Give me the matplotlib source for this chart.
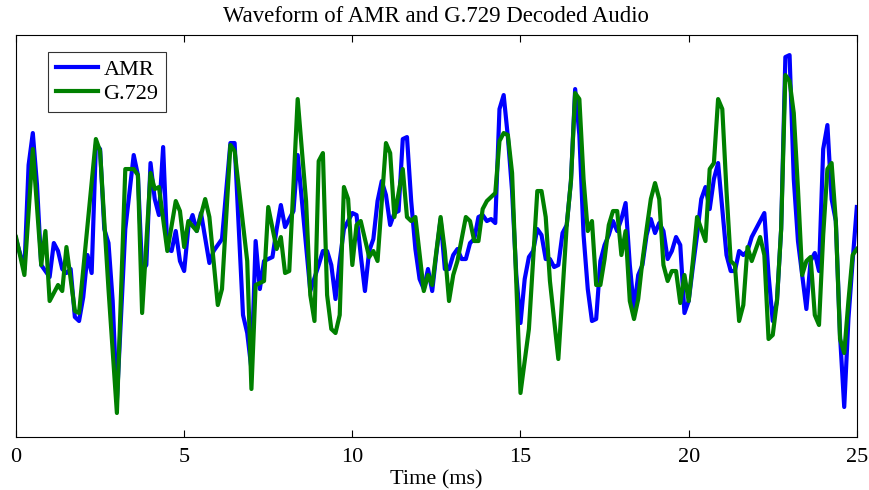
import matplotlib
matplotlib.use("Agg")
import matplotlib.pyplot as plt

plt.rcParams['font.family'] = ['Liberation Serif', 'DejaVu Serif']

amr_t = [0, 0.25, 0.375, 0.5, 0.625, 0.75, 0.875, 1.0, 1.125, 1.25, 1.375, 1.5, 1.625, 1.75, 1.875,
         2.0, 2.125, 2.25, 2.375, 2.5, 2.625, 2.75, 2.875, 3.0, 3.25, 3.5, 3.625, 3.75, 3.875,
         4.0, 4.125, 4.25, 4.375, 4.5, 4.625, 4.75, 4.875, 5.0, 5.125, 5.25, 5.375, 5.5, 5.75, 5.875,
         6.125, 6.375, 6.5, 6.75, 6.875, 7.0, 7.125, 7.25, 7.375, 7.625, 7.75, 7.875,
         8.0, 8.125, 8.25, 8.375, 8.75, 9.0, 9.125, 9.25, 9.375, 9.5, 9.625, 9.75, 9.875,
         10.0, 10.125, 10.25, 10.375, 10.5, 10.625, 10.75, 10.875, 11.0, 11.125, 11.25, 11.375, 11.5, 11.625, 11.75, 11.875,
         12.0, 12.125, 12.25, 12.375, 12.5, 12.625, 12.75, 12.875, 13.0, 13.125, 13.25, 13.375, 13.5, 13.625, 13.75, 13.875,
         14.0, 14.125, 14.25, 14.375, 14.5, 14.625, 14.75, 14.875, 15.0, 15.125, 15.25, 15.375, 15.5, 15.625, 15.75, 15.875,
         16.0, 16.125, 16.25, 16.375, 16.5, 16.625, 16.75, 16.875, 17.0, 17.125, 17.25, 17.375, 17.5, 17.625, 17.75, 17.875,
         18.0, 18.125, 18.25, 18.375, 18.5, 18.625, 18.75, 18.875, 19.0, 19.125, 19.25, 19.375, 19.5, 19.625, 19.75, 19.875,
         20.0, 20.125, 20.25, 20.375, 20.5, 20.625, 20.75, 20.875, 21.0, 21.125, 21.25, 21.375, 21.5, 21.625, 21.75, 21.875,
         22.0, 22.125, 22.25, 22.375, 22.5, 22.625, 22.75, 22.875, 23.0, 23.125, 23.25, 23.375, 23.5, 23.625, 23.75, 23.875,
         24.0, 24.125, 24.25, 24.375, 24.5, 24.625, 24.75, 24.875, 25.0]
amr_v = [-0.01, -0.16, 0.36, 0.52, 0.26, -0.14, -0.17, -0.2, -0.03, -0.07, -0.16, -0.18, -0.16, -0.4, -0.42,
         -0.3, -0.09, -0.18, 0.46, 0.44, 0.04, -0.03, -0.32, -0.82, 0.04, 0.41, 0.31, -0.17, -0.14,
         0.37, 0.19, 0.11, 0.45, -0.06, -0.07, 0.03, -0.12, -0.17, 0.05, 0.11, 0.03, 0.12, -0.13, -0.07,
         -0.01, 0.47, 0.47, -0.39, -0.48, -0.66, -0.02, -0.26, -0.12, -0.1, 0.04, 0.16,
         0.05, 0.09, 0.13, 0.41, -0.27, -0.14, -0.07, -0.07, -0.14, -0.31, -0.12, 0.04, 0.08,
         0.12, 0.11, -0.09, -0.27, -0.07, -0.01, 0.18, 0.28, 0.21, 0.06, 0.12, 0.13, 0.49, 0.5, 0.18, -0.06,
         -0.21, -0.26, -0.16, -0.27, -0.08, 0.09, -0.16, -0.16, -0.09, -0.06, -0.11, -0.11, -0.03, -0.01, 0.1, 0.11,
         0.08, 0.09, 0.07, 0.64, 0.71, 0.5, 0.23, -0.19, -0.43, -0.21, -0.1, -0.07, 0.04, 0.01, -0.11, -0.11,
         -0.15, -0.14, 0.02, 0.06, 0.28, 0.74, 0.51, 0.01, -0.26, -0.42, -0.41, -0.12, -0.04, 0.01, 0.08, 0.03,
         0.09, 0.17, -0.14, -0.36, -0.19, -0.14, 0.01, 0.09, 0.02, 0.07, 0.03, -0.11, -0.07, 0.0, -0.04, -0.38,
         -0.32, -0.15, 0.01, 0.19, 0.25, 0.14, 0.29, 0.37, 0.14, -0.09, -0.17, -0.17, -0.07, -0.09, -0.07, 0.0,
         0.04, 0.08, 0.12, -0.19, -0.42, -0.32, 0.04, 0.9, 0.91, 0.29, -0.02, -0.19, -0.36, -0.12, -0.08, -0.17,
         0.44, 0.56, 0.19, 0.08, -0.49, -0.85, -0.41, -0.12, 0.15]

g729_t = [0, 0.25, 0.5, 0.75, 0.875, 1.0, 1.25, 1.375, 1.5, 1.75, 1.875, 2.375, 2.5, 2.625, 2.75, 3.0,
          3.25, 3.5, 3.625, 3.75, 4.0, 4.125, 4.25, 4.5, 4.75, 4.875, 5.0, 5.125, 5.375, 5.625, 5.75,
          6.0, 6.125, 6.375, 6.5, 6.875, 7.0, 7.125, 7.375, 7.5, 7.75, 7.875, 8.0, 8.125, 8.375, 8.625,
          8.75, 8.875, 9.0, 9.125, 9.25, 9.375, 9.5, 9.625, 9.75, 9.875, 10.0, 10.125, 10.25, 10.5,
          10.625, 10.75, 11.0, 11.125, 11.25, 11.5, 11.625, 11.75, 11.875, 12.125, 12.25, 12.375,
          12.625, 12.75, 12.875, 13.0, 13.125, 13.25, 13.375, 13.5, 13.625, 13.75, 13.875, 14.0, 14.25,
          14.375, 14.5, 14.625, 14.75, 15.0, 15.25, 15.5, 15.625, 15.75, 15.875, 16.125, 16.375, 16.5,
          16.625, 16.75, 16.875, 17.0, 17.125, 17.25, 17.375, 17.5, 17.625, 17.75, 17.875, 18.0, 18.125,
          18.25, 18.375, 18.5, 18.625, 18.75, 18.875, 19.0, 19.125, 19.25, 19.375, 19.5, 19.625, 19.75,
          19.875, 20.0, 20.125, 20.25, 20.375, 20.5, 20.625, 20.75, 20.875, 21.0, 21.125, 21.25, 21.375,
          21.5, 21.625, 21.75, 21.875, 22.0, 22.125, 22.25, 22.375, 22.5, 22.625, 22.75, 22.875, 23.0,
          23.125, 23.25, 23.375, 23.5, 23.625, 23.75, 23.875, 24.0, 24.125, 24.25, 24.375, 24.5, 24.625,
          24.75, 24.875, 25.0]
g729_v = [0.0, -0.19, 0.44, -0.14, 0.03, -0.32, -0.24, -0.27, -0.05, -0.37, -0.38, 0.49, 0.43, 0.08, -0.26, -0.88,
          0.34, 0.34, 0.31, -0.38, 0.32, 0.24, 0.25, -0.07, 0.18, 0.13, -0.05, 0.08, 0.03, 0.19, 0.1,
          -0.34, -0.26, 0.46, 0.43, -0.12, -0.76, -0.24, -0.22, 0.15, -0.06, 0.0, -0.18, -0.17, 0.69, 0.18,
          -0.29, -0.42, 0.38, 0.42, -0.29, -0.46, -0.48, -0.39, 0.25, 0.19, -0.14, 0.06, 0.08, -0.1,
          -0.07, -0.12, 0.47, 0.42, 0.1, 0.34, 0.1, 0.08, 0.1, -0.27, -0.19, -0.24,
          0.1, -0.07, -0.32, -0.19, -0.12, -0.01, 0.1, 0.08, -0.02, -0.02, 0.14, 0.18, 0.22,
          0.48, 0.52, 0.51, 0.32, -0.78, -0.46, 0.23, 0.23, 0.1, -0.22, -0.61, 0.06, 0.28,
          0.72, 0.69, 0.29, 0.03, 0.08, -0.24, -0.24, -0.11, 0.06, 0.13, 0.13, -0.09, 0.03,
          -0.32, -0.41, -0.31, -0.12, 0.04, 0.19, 0.27, 0.19, -0.14, -0.22, -0.17, -0.17, -0.33,
          -0.19, -0.32, -0.12, 0.1, 0.04, -0.02, 0.34, 0.37, 0.69, 0.64, 0.23, -0.12, -0.14,
          -0.42, -0.34, -0.05, -0.12, -0.06, 0.0, -0.09, -0.51, -0.49, -0.32, 0.04, 0.81, 0.78,
          0.62, 0.24, -0.19, -0.12, -0.1, -0.39, -0.44, 0.01, 0.34, 0.37, 0.08, -0.51, -0.58,
          -0.32, -0.09, -0.06]

series_names = ["AMR", "G.729"]
series_colors = ["#0000ff", "#008000"]
title_text = "Waveform of AMR and G.729 Decoded Audio"
xlabel_text = "Time (ms)"
xticks = [0, 5, 10, 15, 20, 25]

fig = plt.figure(figsize=(8.69, 4.90), dpi=100)
ax = fig.add_axes([0.0184, 0.1082, 0.9676, 0.8194])
ax.plot(amr_t, amr_v, color=series_colors[0], lw=3, label=series_names[0])
ax.plot(g729_t, g729_v, color=series_colors[1], lw=3, label=series_names[1])
ax.set_xlim(0, 25)
ax.set_ylim(-1, 1.008)
ax.set_xticks(xticks)
ax.set_yticks([])
ax.tick_params(axis='x', direction='in', top=True, labelsize=16, length=5, pad=8)
ax.set_xlabel(xlabel_text, fontsize=16, labelpad=2)
ax.set_title(title_text, fontsize=16.4, pad=10)
leg = ax.legend(loc='upper left', bbox_to_anchor=(0.038, 0.96), fontsize=16, frameon=True,
                fancybox=False, edgecolor='black', handlelength=1.9, borderpad=0.35,
                labelspacing=0.15, handletextpad=0.25, borderaxespad=0)
leg.get_frame().set_linewidth(0.8)
for sp in ax.spines.values():
    sp.set_linewidth(0.8)
fig.savefig("out.png", dpi=100)
